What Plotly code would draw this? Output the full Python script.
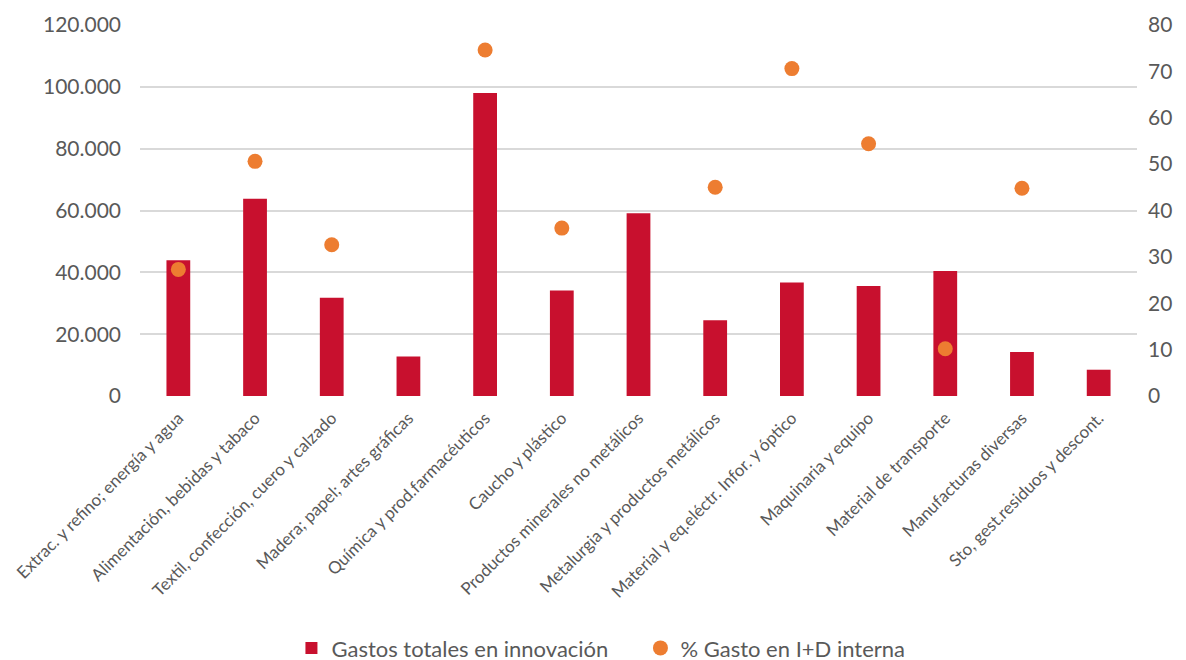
import plotly.graph_objects as go

categories = [
    "Extrac. y refino; energía y agua",
    "Alimentación, bebidas y tabaco",
    "Textil, confección, cuero y calzado",
    "Madera; papel; artes gráficas",
    "Química y prod.farmacéuticos",
    "Caucho y plástico",
    "Productos minerales no metálicos",
    "Metalurgia y productos metálicos",
    "Material y eq.eléctr. Infor. y óptico",
    "Maquinaria y equipo",
    "Material de transporte",
    "Manufacturas diversas",
    "Sto, gest.residuos y descont.",
]
gastos_totales = [43900, 63800, 31800, 12800, 98000, 34100, 59100, 24500, 36700, 35600, 40400, 14200, 8500]
pct_id_interna = [27.3, 50.6, 32.6, None, 74.6, 36.2, None, 45.0, 70.6, 54.4, 10.2, 44.8, None]

font_family = "Lato, 'Open Sans', sans-serif"
grey = "#595959"

fig = go.Figure()
fig.add_trace(go.Bar(
    x=categories, y=gastos_totales, name="Gastos totales en innovación",
    marker=dict(color="#C8102E", line=dict(width=0)), width=0.31, yaxis="y",
))
fig.add_trace(go.Scatter(
    x=categories, y=pct_id_interna, name="% Gasto en I+D interna", mode="markers",
    marker=dict(color="#ED7D31", size=15, line=dict(width=0)), yaxis="y2",
))

fig.update_layout(
    width=1186, height=660,
    margin=dict(l=140, r=49, t=25, b=264, autoexpand=False),
    paper_bgcolor="white", plot_bgcolor="white",
    separators=",.",
    font=dict(family=font_family, color=grey, size=19),
    xaxis=dict(range=[-0.5, len(categories) - 0.5], tickangle=-45,
               tickfont=dict(size=17, color=grey), showgrid=False,
               showline=False, ticks="", automargin=False, ticklabelstandoff=8),
    yaxis=dict(range=[0, 120000], dtick=20000, tickformat=",d", showgrid=True,
               gridcolor="#d9d9d9", gridwidth=1.5, zeroline=False, ticks="",
               tickfont=dict(size=21, color=grey), automargin=False, ticklabelstandoff=18),
    yaxis2=dict(range=[0, 80], dtick=10, overlaying="y", side="right", showgrid=False,
                zeroline=False, ticks="", tickfont=dict(size=21, color=grey), automargin=False,
                ticklabelstandoff=10),
    legend=dict(orientation="h", xref="container", yref="container",
                x=0.540, xanchor="center", y=0.018, yanchor="middle",
                font=dict(size=22, color=grey), itemwidth=30, traceorder="normal",
                entrywidth=304, entrywidthmode="pixels"),
    bargap=0.6,
)
fig.write_html(
    "out.html",
    config={"displayModeBar": False},
    post_script="document.body.style.margin='0';document.body.style.overflow='hidden';",
)
